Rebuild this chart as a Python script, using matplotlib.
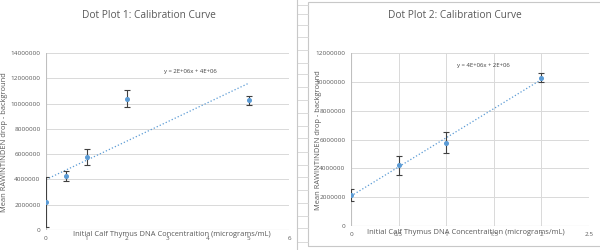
import numpy as np
import matplotlib
matplotlib.use('Agg')
import matplotlib.pyplot as plt
from matplotlib.patches import Rectangle
from matplotlib.lines import Line2D

# Dot Plot 1 data
x1 = [0, 0.5, 1, 2, 5]
y1 = [2.2e6, 4.25e6, 5.8e6, 10.4e6, 10.25e6]
err1 = [2.0e6, 0.4e6, 0.63e6, 0.7e6, 0.33e6]

# Dot Plot 2 data
x2 = [0, 0.5, 1, 2]
y2 = [2.15e6, 4.23e6, 5.78e6, 10.3e6]
err2 = [0.4e6, 0.66e6, 0.72e6, 0.3e6]

titles = ['Dot Plot 1: Calibration Curve', 'Dot Plot 2: Calibration Curve']
xlabel = 'Initial Calf Thymus DNA Concentraition (micrograms/mL)'
ylabel = 'Mean RAWINTINDEN drop - background'

plt.rcParams['font.family'] = ['Open Sans', 'DejaVu Sans']

BLUE = '#5b9bd5'
GRID = '#d9d9d9'
TXT = '#595959'

fig = plt.figure(figsize=(6, 2.5), dpi=100)
fig.patch.set_facecolor('white')

W, H = 600.0, 250.0


def fx(px):
    return px / W


def fy(py):
    return 1 - py / H


# spreadsheet cells showing between the two charts
for py in [5, 14, 25, 37, 50, 63, 74, 87, 100, 113, 126, 138, 152, 165, 177,
           190, 203, 216, 228, 242]:
    fig.add_artist(Line2D([fx(297), fx(308)], [fy(py), fy(py)], color='#d4d4d4', lw=0.6))
fig.add_artist(Line2D([fx(297), fx(297)], [0, 1], color='#c8c8c8', lw=0.8))
fig.add_artist(Rectangle((fx(308), fy(246)), fx(300), fy(2) - fy(246), fill=False,
                         edgecolor='#c8c8c8', lw=0.8))


def style_axis(ax, vgrid):
    for s in ax.spines.values():
        s.set_visible(False)
    ax.grid(axis='y', color=GRID, lw=0.7)
    if vgrid:
        ax.grid(axis='x', color=GRID, lw=0.7)
    ax.set_axisbelow(True)
    ax.axvline(0, color='#bfbfbf', lw=0.8, zorder=1)
    ax.axhline(0, color='#bfbfbf', lw=0.8, zorder=1)
    ax.tick_params(length=0, labelsize=4.6, labelcolor=TXT, pad=4)
    ax.yaxis.set_major_formatter(matplotlib.ticker.FuncFormatter(lambda v, p: f'{v:.0f}'))
    ax.xaxis.set_major_formatter(matplotlib.ticker.FuncFormatter(lambda v, p: f'{v:g}'))


def draw(ax, x, y, err, x_end):
    ax.errorbar(x, y, yerr=err, fmt='none', ecolor='#404040', elinewidth=0.8,
                capsize=2.2, capthick=0.8, zorder=3)
    ax.plot(x, y, 'o', color=BLUE, ms=2.6, zorder=4)
    m, b = np.polyfit(x, y, 1)
    xs = np.array([0, x_end])
    ax.plot(xs, m * xs + b, ':', color=BLUE, lw=0.9, zorder=2)
    return m, b


# left chart
ax1 = fig.add_axes([fx(46), fy(230), fx(289) - fx(46), fy(53) - fy(230)])
style_axis(ax1, vgrid=False)
draw(ax1, x1, y1, err1, 5)
ax1.set_xlim(0, 6)
ax1.set_ylim(0, 14e6)
ax1.set_yticks(np.arange(0, 14e6 + 1, 2e6))
ax1.set_xticks(range(0, 7))
fig.text(fx(149), fy(16), titles[0], ha='center', va='center', fontsize=7.3, color=TXT)
fig.text(fx(190), fy(71), 'y = 2E+06x + 4E+06', ha='center', va='center', fontsize=4.3, color='#404040')
fig.text(fx(172), fy(234), xlabel, ha='center', va='center', fontsize=5.4, color=TXT)
fig.text(fx(5), fy(142), ylabel, ha='center', va='center', rotation=90, fontsize=5.4, color=TXT)

# right chart
ax2 = fig.add_axes([fx(351), fy(226), fx(589) - fx(351), fy(53) - fy(226)])
style_axis(ax2, vgrid=True)
draw(ax2, x2, y2, err2, 2)
ax2.set_xlim(0, 2.5)
ax2.set_ylim(0, 12e6)
ax2.set_yticks(np.arange(0, 12e6 + 1, 2e6))
ax2.set_xticks(np.arange(0, 2.51, 0.5))
fig.text(fx(455), fy(16), titles[1], ha='center', va='center', fontsize=7.3, color=TXT)
fig.text(fx(483), fy(65), 'y = 4E+06x + 2E+06', ha='center', va='center', fontsize=4.3, color='#404040')
fig.text(fx(466), fy(232), xlabel, ha='center', va='center', fontsize=5.4, color=TXT)
fig.text(fx(318), fy(140), ylabel, ha='center', va='center', rotation=90, fontsize=5.4, color=TXT)

fig.savefig('out.png', dpi=100, facecolor='white')
